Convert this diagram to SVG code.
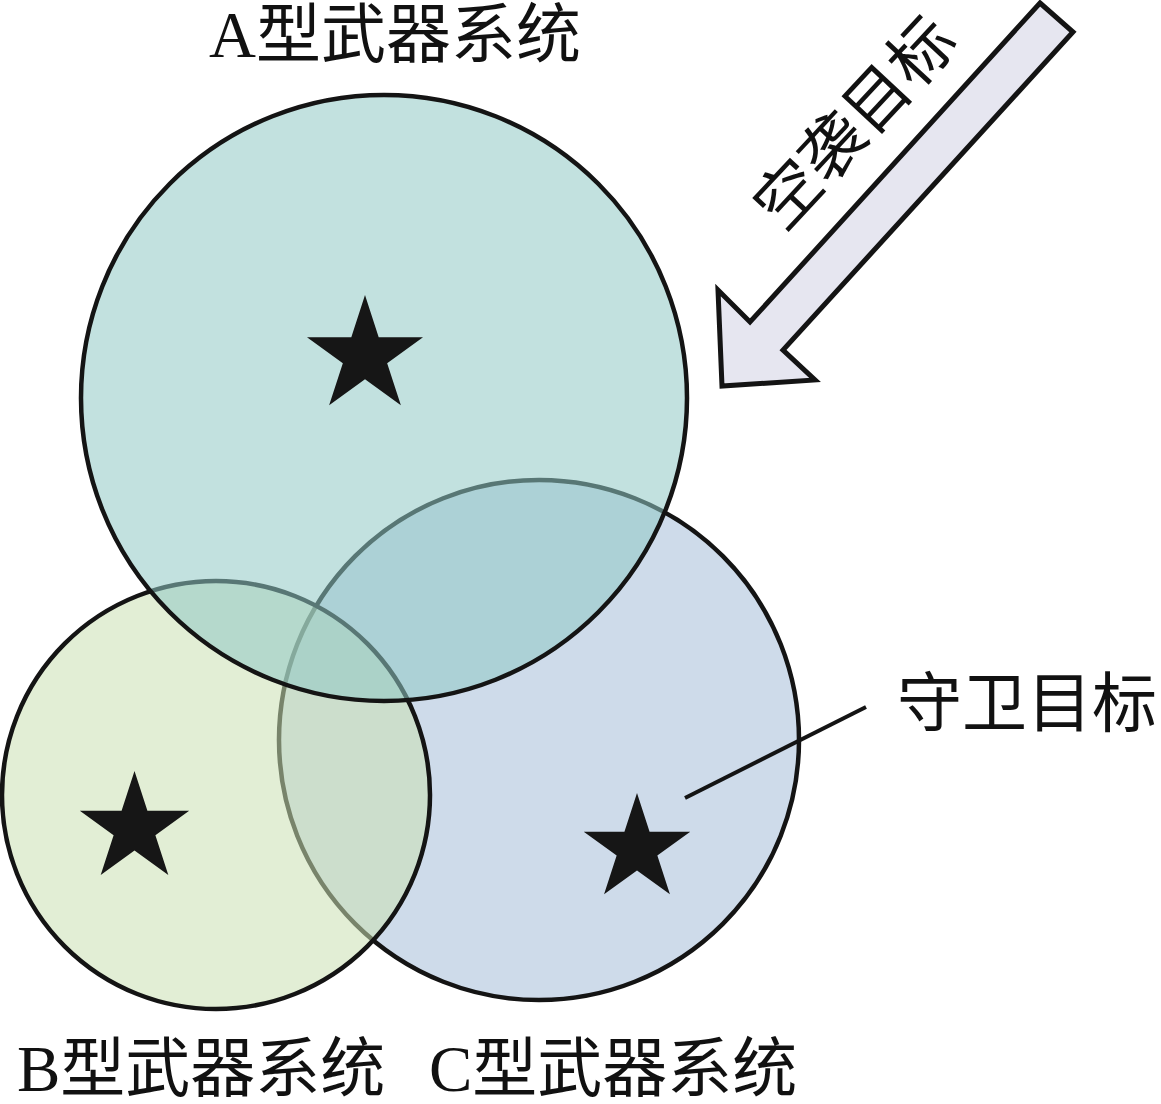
<svg xmlns="http://www.w3.org/2000/svg" xmlns:xlink="http://www.w3.org/1999/xlink" width="1161" height="1104" viewBox="0 0 1161 1104">
  <style>
    .zone { stroke: #141414; stroke-width: 4.5; fill-opacity: 0.55; }
    .lbl { font-family: "Liberation Serif", "Noto Sans CJK SC", serif; font-size: 65px; fill: #111; }
    .cjk { font-family: "Noto Sans CJK SC", "Liberation Serif", serif; }
    .star { fill: #161616; }
  </style>
  <defs>
    <path id="star" d="M0,-1 L0.2245,-0.309 L0.951,-0.309 L0.3633,0.118 L0.588,0.809 L0,0.382 L-0.588,0.809 L-0.3633,0.118 L-0.951,-0.309 L-0.2245,-0.309 Z"/>
  </defs>
  <rect width="1161" height="1104" fill="#ffffff"/>

  <g id="zone-C">
    <circle class="zone" cx="539" cy="740" r="260" fill="#a6bdd9"/>
  </g>
  <g id="zone-B">
    <circle class="zone" cx="216" cy="795" r="214" fill="#cae0b3"/>
  </g>
  <g id="zone-A">
    <circle class="zone" cx="384" cy="398" r="303" fill="#90c8c5"/>
  </g>

  <g id="star-A"><use xlink:href="#star" class="star" transform="translate(365,356) scale(61)"/></g>
  <g id="star-B"><use xlink:href="#star" class="star" transform="translate(134.5,828.5) scale(57.5)"/></g>
  <g id="star-C"><use xlink:href="#star" class="star" transform="translate(637,849) scale(56)"/></g>

  <g id="attack-arrow">
    <polygon points="1040,3 1073,32 783,350 815,380 722,386 718,290 750,322" fill="#e6e6f0" stroke="#141414" stroke-width="5" stroke-linejoin="miter"/>
    <text class="lbl cjk" text-anchor="middle" transform="translate(854,122) rotate(-47)" x="0" y="24" font-size="64">空袭目标</text>
  </g>

  <g id="label-A"><text class="lbl" x="209" y="57">A<tspan class="cjk">型武器系统</tspan></text></g>
  <g id="label-B"><text class="lbl" x="17" y="1091">B<tspan class="cjk">型武器系统</tspan></text></g>
  <g id="label-C"><text class="lbl" x="429" y="1091">C<tspan class="cjk">型武器系统</tspan></text></g>
  <g id="label-guard"><text class="lbl cjk" x="897" y="726">守卫目标</text></g>

  <g id="connectors">
    <line x1="685" y1="798" x2="866" y2="707" stroke="#141414" stroke-width="4"/>
  </g>
</svg>
